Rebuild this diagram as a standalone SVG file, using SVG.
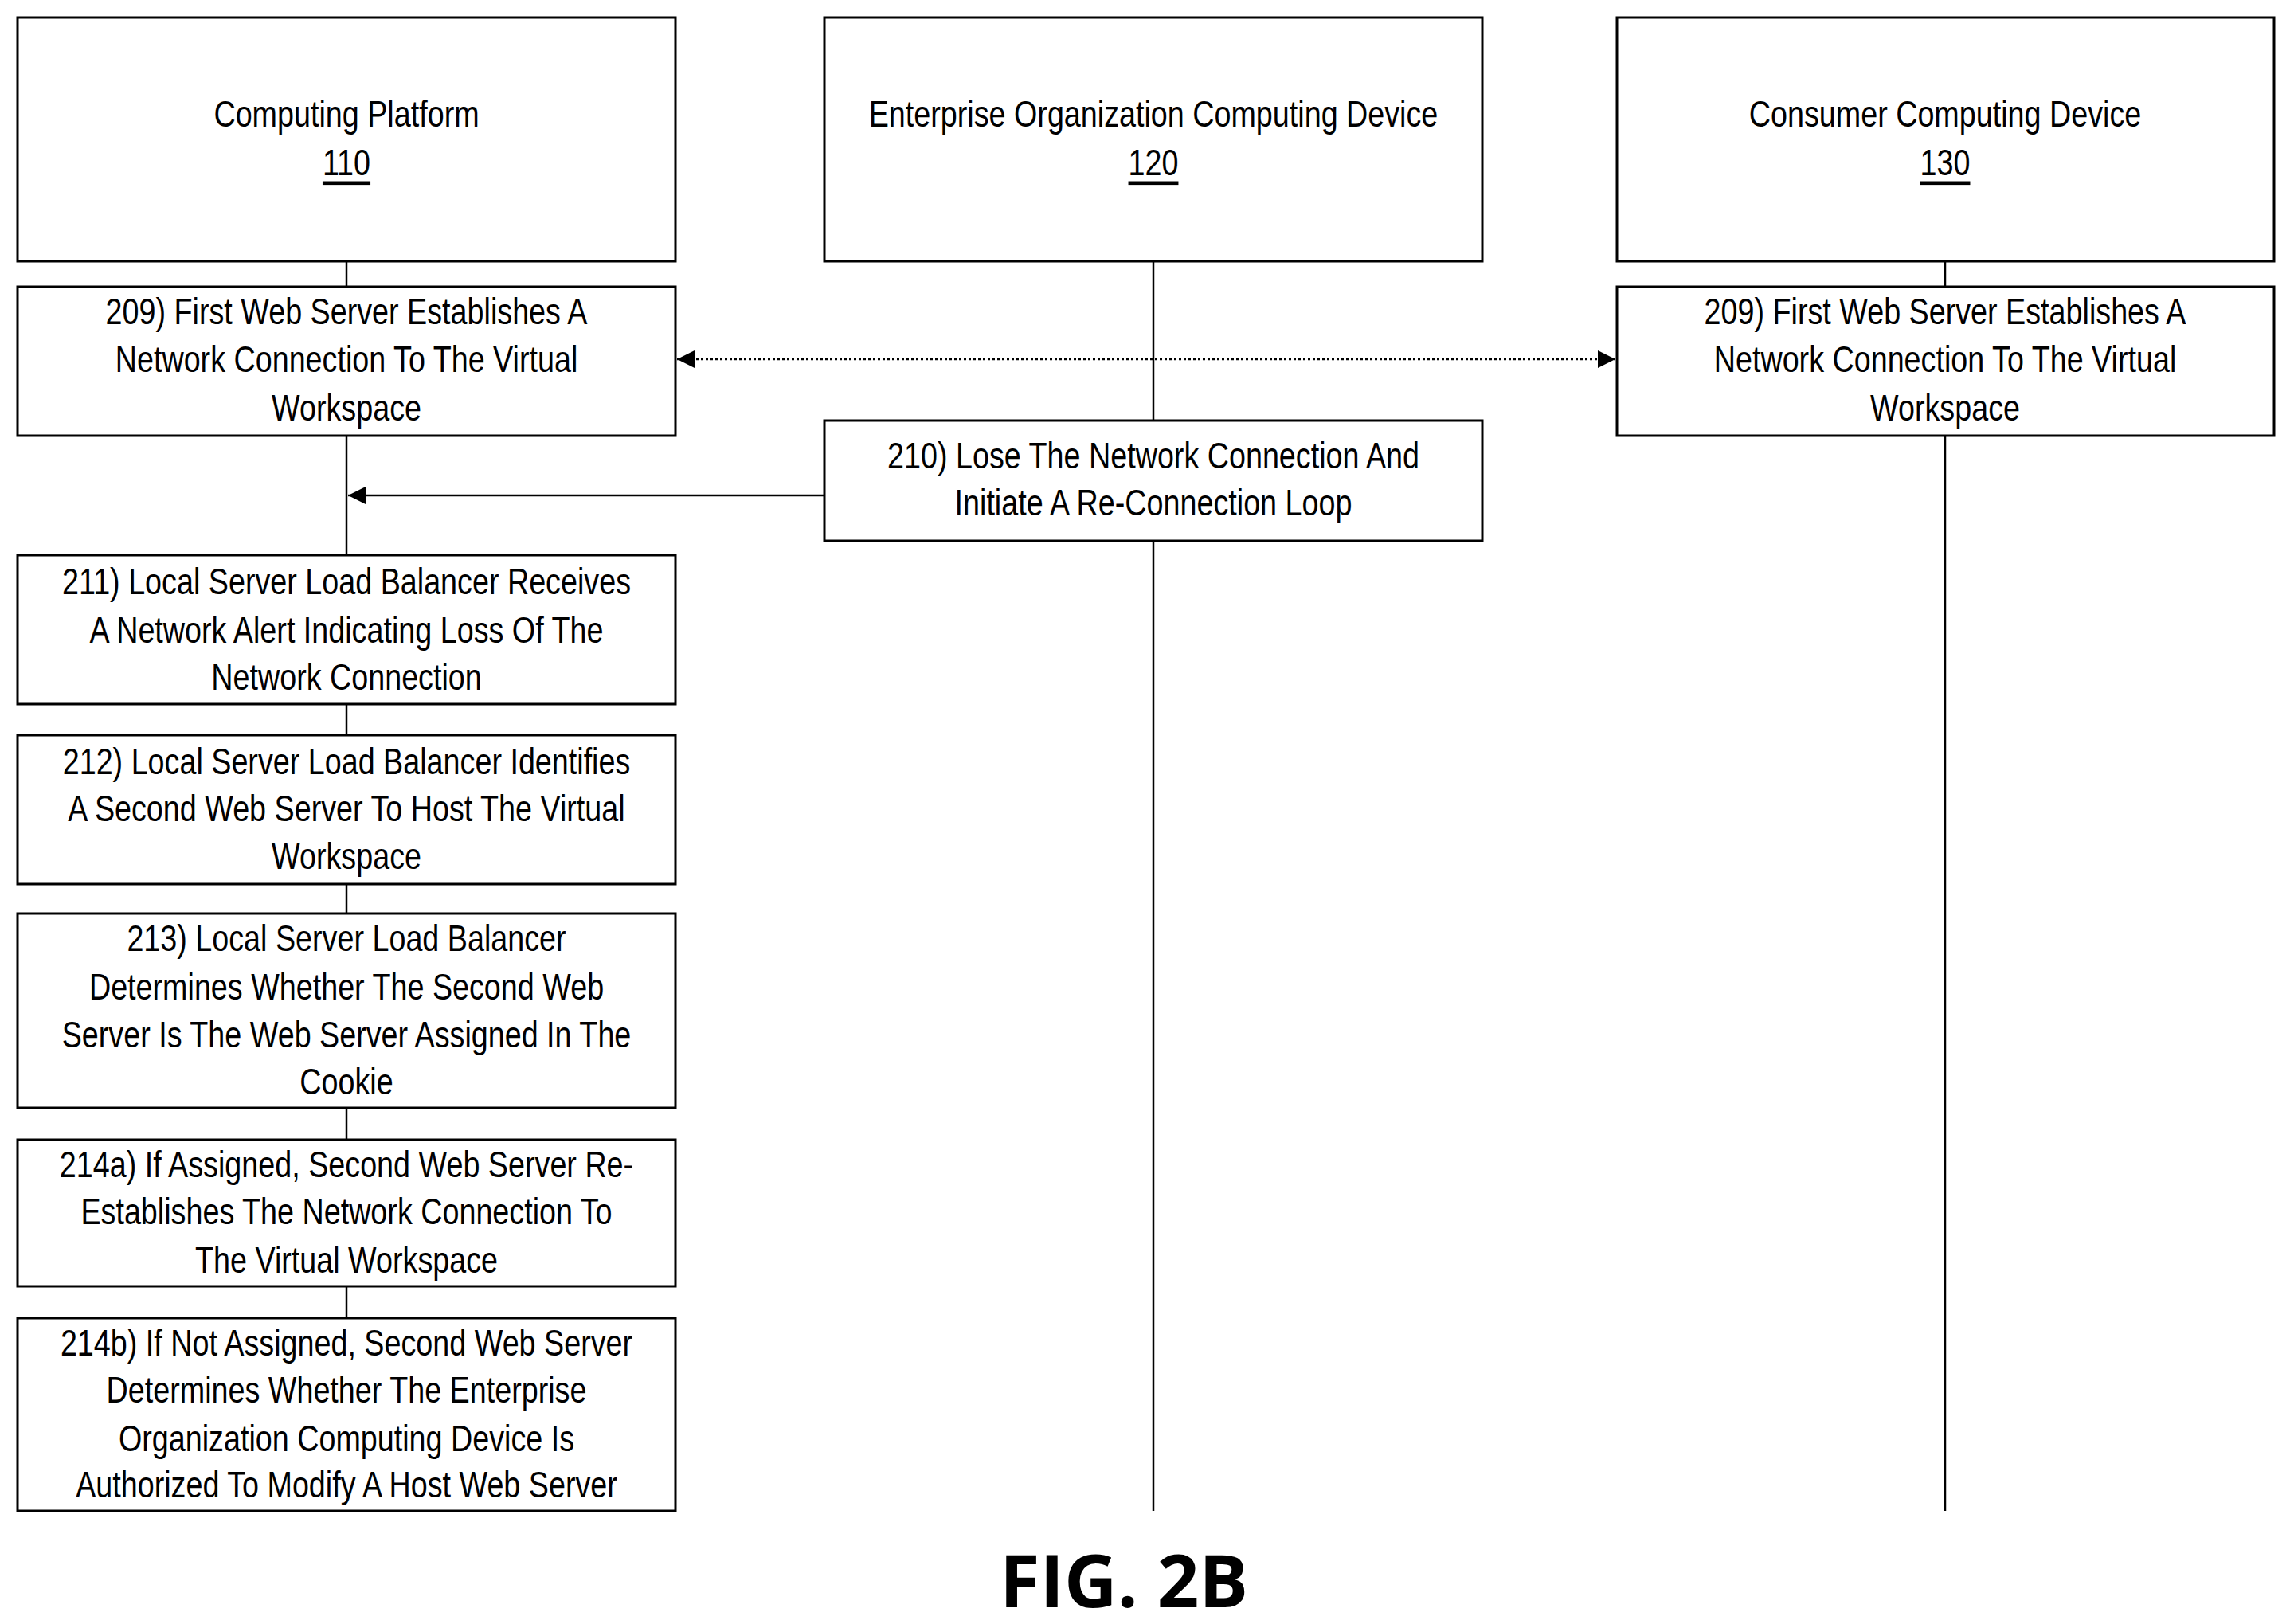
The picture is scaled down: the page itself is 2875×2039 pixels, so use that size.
<svg xmlns="http://www.w3.org/2000/svg" width="2875" height="2039" viewBox="0 0 2875 2039">
<style>
.b{fill:#fff;stroke:#000;stroke-width:3}
.l{stroke:#000;stroke-width:2.5;fill:none}
text{font-family:"Liberation Sans",Arial,sans-serif;font-size:46px;fill:#000;text-anchor:middle;dominant-baseline:central}
</style>
<defs>
<marker id="a" viewBox="0 0 10 10" refX="10" refY="5" markerWidth="10" markerHeight="10" markerUnits="userSpaceOnUse" orient="auto-start-reverse"><path d="M0,0L10,5L0,10z"/></marker>
<marker id="b" viewBox="0 0 10 10" refX="10" refY="5" markerWidth="22" markerHeight="22" markerUnits="userSpaceOnUse" orient="auto-start-reverse"><path d="M0,0L10,5L0,10z"/></marker>
</defs>
<rect width="2875" height="2039" fill="#fff"/>
<g id="connectors">
<line class="l" x1="435" y1="328" x2="435" y2="360"/>
<line class="l" x1="435" y1="547" x2="435" y2="697"/>
<line class="l" x1="435" y1="884" x2="435" y2="923"/>
<line class="l" x1="435" y1="1110" x2="435" y2="1147"/>
<line class="l" x1="435" y1="1391" x2="435" y2="1431"/>
<line class="l" x1="435" y1="1615" x2="435" y2="1655"/>
<line class="l" x1="1448" y1="328" x2="1448" y2="528"/>
<line class="l" x1="1448" y1="679" x2="1448" y2="1897"/>
<line class="l" x1="2442" y1="328" x2="2442" y2="1897"/>
<line class="l" x1="850" y1="451" x2="2028" y2="451" stroke-dasharray="3,3" marker-start="url(#b)" marker-end="url(#b)"/>
<line class="l" x1="1035" y1="622" x2="437" y2="622" marker-end="url(#b)"/>
</g>
<g id="n110"><rect class="b" x="22" y="22" width="826" height="306"/><text transform="translate(435,143) scale(0.82,1)">Computing Platform</text><text transform="translate(435,204) scale(0.82,1)" text-decoration="underline">110</text></g>
<g id="n120"><rect class="b" x="1035" y="22" width="826" height="306"/><text transform="translate(1448,143) scale(0.82,1)">Enterprise Organization Computing Device</text><text transform="translate(1448,204) scale(0.82,1)" text-decoration="underline">120</text></g>
<g id="n130"><rect class="b" x="2030" y="22" width="825" height="306"/><text transform="translate(2442,143) scale(0.82,1)">Consumer Computing Device</text><text transform="translate(2442,204) scale(0.82,1)" text-decoration="underline">130</text></g>
<g id="s209a"><rect class="b" x="22" y="360" width="826" height="187"/><text transform="translate(435,391) scale(0.82,1)">209) First Web Server Establishes A</text><text transform="translate(435,451) scale(0.82,1)">Network Connection To The Virtual</text><text transform="translate(435,512) scale(0.82,1)">Workspace</text></g>
<g id="s209b"><rect class="b" x="2030" y="360" width="825" height="187"/><text transform="translate(2442,391) scale(0.82,1)">209) First Web Server Establishes A</text><text transform="translate(2442,451) scale(0.82,1)">Network Connection To The Virtual</text><text transform="translate(2442,512) scale(0.82,1)">Workspace</text></g>
<g id="s210"><rect class="b" x="1035" y="528" width="826" height="151"/><text transform="translate(1448,572) scale(0.82,1)">210) Lose The Network Connection And</text><text transform="translate(1448,631) scale(0.82,1)">Initiate A Re-Connection Loop</text></g>
<g id="s211"><rect class="b" x="22" y="697" width="826" height="187"/><text transform="translate(435,730) scale(0.82,1)">211) Local Server Load Balancer Receives</text><text transform="translate(435,791) scale(0.82,1)">A Network Alert Indicating Loss Of The</text><text transform="translate(435,850) scale(0.82,1)">Network Connection</text></g>
<g id="s212"><rect class="b" x="22" y="923" width="826" height="187"/><text transform="translate(435,956) scale(0.82,1)">212) Local Server Load Balancer Identifies</text><text transform="translate(435,1015) scale(0.82,1)">A Second Web Server To Host The Virtual</text><text transform="translate(435,1075) scale(0.82,1)">Workspace</text></g>
<g id="s213"><rect class="b" x="22" y="1147" width="826" height="244"/><text transform="translate(435,1178) scale(0.82,1)">213) Local Server Load Balancer</text><text transform="translate(435,1239) scale(0.82,1)">Determines Whether The Second Web</text><text transform="translate(435,1299) scale(0.82,1)">Server Is The Web Server Assigned In The</text><text transform="translate(435,1358) scale(0.82,1)">Cookie</text></g>
<g id="s214a"><rect class="b" x="22" y="1431" width="826" height="184"/><text transform="translate(435,1462) scale(0.82,1)">214a) If Assigned, Second Web Server Re-</text><text transform="translate(435,1521) scale(0.82,1)">Establishes The Network Connection To</text><text transform="translate(435,1582) scale(0.82,1)">The Virtual Workspace</text></g>
<g id="s214b"><rect class="b" x="22" y="1655" width="826" height="242"/><text transform="translate(435,1686) scale(0.82,1)">214b) If Not Assigned, Second Web Server</text><text transform="translate(435,1745) scale(0.82,1)">Determines Whether The Enterprise</text><text transform="translate(435,1806) scale(0.82,1)">Organization Computing Device Is</text><text transform="translate(435,1864) scale(0.82,1)">Authorized To Modify A Host Web Server</text></g>
<text x="1411" y="1982" style="font-family:'Open Sans',sans-serif;font-weight:bold;font-size:92px">FIG. 2B</text>
</svg>
